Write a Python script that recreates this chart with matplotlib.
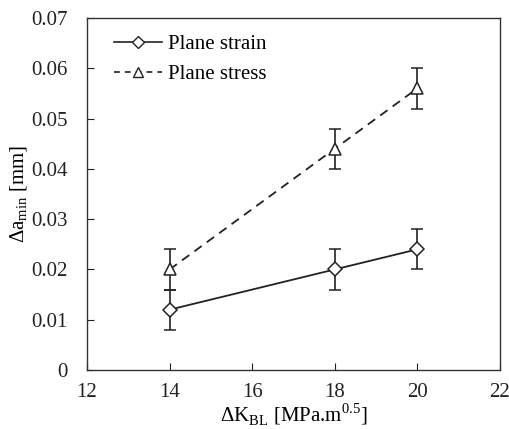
import matplotlib
matplotlib.use("Agg")
import matplotlib.pyplot as plt
from matplotlib.lines import Line2D

plt.rcParams['font.family'] = ['Liberation Serif', 'DejaVu Serif']
plt.rcParams['mathtext.fontset'] = 'custom'
plt.rcParams['mathtext.rm'] = 'Liberation Serif'

dK = [14, 18, 20]
strain = [0.012, 0.020, 0.024]
strain_err = [0.004, 0.004, 0.004]
stress = [0.020, 0.044, 0.056]
stress_err = [0.004, 0.004, 0.004]

fig = plt.figure(figsize=(5.09, 4.29), dpi=100)
ax = fig.add_axes([0.171, 0.1375, 0.811, 0.8205])

col = '#222222'
dash = (0, (5, 3.5))
ax.errorbar(dK, strain, yerr=strain_err, color=col, lw=1.3, marker='D', ms=7.5,
            mfc='white', mec=col, mew=1.1, capsize=4.5, elinewidth=1.2, capthick=1.2,
            zorder=3)
ax.errorbar(dK, stress, yerr=stress_err, color=col, lw=1.3, ls=dash, marker='^', ms=8,
            mfc='white', mec=col, mew=1.1, capsize=4.5, elinewidth=1.2, capthick=1.2,
            zorder=3)

ax.set_xlim(12, 22)
ax.set_ylim(0, 0.07)
ax.set_xticks([12, 14, 16, 18, 20, 22])
ax.set_yticks([0, 0.01, 0.02, 0.03, 0.04, 0.05, 0.06, 0.07])
ax.set_yticklabels(['0', '0.01', '0.02', '0.03', '0.04', '0.05', '0.06', '0.07'])
ax.tick_params(axis='y', direction='in', length=5, labelsize=15, colors='#222222', pad=14)
ax.tick_params(axis='x', direction='in', length=5, labelsize=15, colors='#222222', pad=9)
for s in ax.spines.values():
    s.set_color('#333333')
    s.set_linewidth(1.0)

ax.set_xlabel(r'$\Delta$K$_{\mathrm{BL}}$ [MPa.m$^{0.5}$]', fontsize=15, labelpad=0)
ax.set_ylabel(r'$\Delta$a$_{\mathrm{min}}$ [mm]', fontsize=15, labelpad=1)

handles = [
    Line2D([], [], color=col, lw=1.2, marker='D', ms=6, mfc='white', mec=col, mew=1.0),
    Line2D([], [], color=col, lw=1.2, ls=(0, (3.5, 3)), marker='^', ms=7, mfc='white', mec=col, mew=1.0),
]
ax.legend(handles, ['Plane strain', 'Plane stress'], loc='upper left', frameon=False,
          fontsize=15, handlelength=2.3, handletextpad=0.3,
          bbox_to_anchor=(0.025, 1.0), borderaxespad=0.4, labelspacing=0.5)

fig.savefig('out.png', dpi=100)
